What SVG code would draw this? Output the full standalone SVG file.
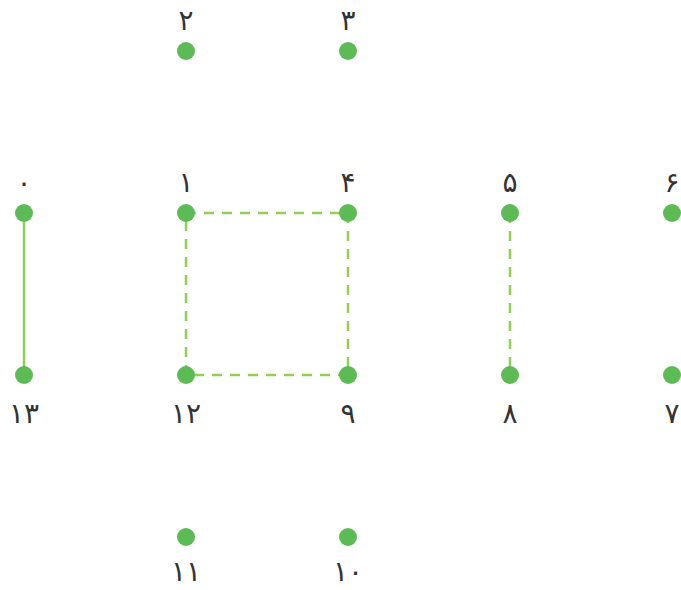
<svg xmlns="http://www.w3.org/2000/svg" width="681" height="590" viewBox="0 0 681 590">
<style>
.n{fill:#5dbb55}
.t{font-family:"DejaVu Sans",sans-serif;font-size:28px;fill:#333;text-anchor:middle}
.e{stroke:#92cf55;stroke-width:2.5;fill:none}
.d{stroke-dasharray:10,8}
</style>
<rect width="681" height="590" fill="#fff"/>
<g id="edges">
<line class="e" x1="24" y1="213" x2="24" y2="375"/>
<line class="e d" x1="186" y1="213" x2="348" y2="213"/>
<line class="e d" x1="348" y1="213" x2="348" y2="375"/>
<line class="e d" x1="348" y1="375" x2="186" y2="375"/>
<line class="e d" x1="186" y1="375" x2="186" y2="213"/>
<line class="e d" x1="510" y1="213" x2="510" y2="375"/>
</g>
<g id="n0"><circle class="n" cx="24" cy="213" r="9"/><text class="t" x="24" y="192">۰</text></g>
<g id="n1"><circle class="n" cx="186" cy="213" r="9"/><text class="t" x="186" y="192">۱</text></g>
<g id="n2"><circle class="n" cx="186" cy="51" r="9"/><text class="t" x="186" y="30">۲</text></g>
<g id="n3"><circle class="n" cx="348" cy="51" r="9"/><text class="t" x="348" y="30">۳</text></g>
<g id="n4"><circle class="n" cx="348" cy="213" r="9"/><text class="t" x="348" y="192">۴</text></g>
<g id="n5"><circle class="n" cx="510" cy="213" r="9"/><text class="t" x="510" y="192">۵</text></g>
<g id="n6"><circle class="n" cx="672" cy="213" r="9"/><text class="t" x="672" y="192">۶</text></g>
<g id="n7"><circle class="n" cx="672" cy="375" r="9"/><text class="t" x="672" y="423">۷</text></g>
<g id="n8"><circle class="n" cx="510" cy="375" r="9"/><text class="t" x="510" y="423">۸</text></g>
<g id="n9"><circle class="n" cx="348" cy="375" r="9"/><text class="t" x="348" y="423">۹</text></g>
<g id="n10"><circle class="n" cx="348" cy="537" r="9"/><text class="t" x="348" y="581">۱۰</text></g>
<g id="n11"><circle class="n" cx="186" cy="537" r="9"/><text class="t" x="186" y="581">۱۱</text></g>
<g id="n12"><circle class="n" cx="186" cy="375" r="9"/><text class="t" x="186" y="423">۱۲</text></g>
<g id="n13"><circle class="n" cx="24" cy="375" r="9"/><text class="t" x="24" y="423">۱۳</text></g>
</svg>
